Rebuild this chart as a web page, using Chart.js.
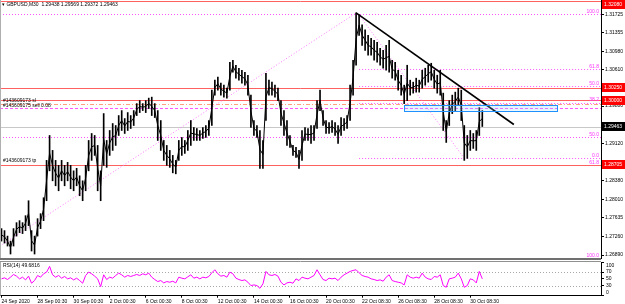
<!DOCTYPE html>
<html>
<head>
<meta charset="utf-8">
<script src="https://cdn.jsdelivr.net/npm/chart.js@4.4.0/dist/chart.umd.min.js"></script>
<style>
    html, body { margin: 0; padding: 0; background: #fff; }
    #wrap { position: relative; width: 625px; height: 304px; overflow: hidden; }
    #main { position: absolute; left: 0; top: 0; }
    #rsi { position: absolute; left: 0; top: 258px; }
</style>
</head>
<body>
<div id="wrap">
    <canvas id="main" width="625" height="259"></canvas>
    <canvas id="rsi" width="625" height="46"></canvas>
</div>
<script>
// GBPUSD M30, one column = a small group of bars (high / low)
var highs = [
    1.2742, 1.2738, 1.2727, 1.2717, 1.2742, 1.2754, 1.2758, 1.2754, 1.2768, 1.2798,
    1.2738, 1.2727, 1.2762, 1.2772, 1.2804, 1.2879, 1.2929, 1.2899, 1.2879, 1.2869,
    1.2879, 1.2869, 1.2875, 1.2869, 1.2858, 1.2863, 1.2848, 1.2838, 1.2869, 1.2919,
    1.2933, 1.2929, 1.2909, 1.2858, 1.2973, 1.2919, 1.2939, 1.2953, 1.2949, 1.2969,
    1.2979, 1.2963, 1.2975, 1.2969, 1.2979, 1.2993, 1.2999, 1.2993, 1.2999, 1.3004,
    1.3006, 1.2993, 1.2979, 1.2959, 1.2919, 1.2909, 1.2899, 1.2889, 1.2879, 1.2919,
    1.2925, 1.2919, 1.2939, 1.2959, 1.2945, 1.2943, 1.2939, 1.2945, 1.2949, 1.2959,
    1.3020, 1.3040, 1.3046, 1.3034, 1.3030, 1.3024, 1.3076, 1.3080, 1.3070, 1.3064,
    1.3060, 1.3056, 1.3050, 1.3010, 1.2959, 1.2949, 1.2939, 1.2919, 1.3054, 1.3040,
    1.3036, 1.3030, 1.3024, 1.2999, 1.2979, 1.2959, 1.2929, 1.2909, 1.2905, 1.2899,
    1.2939, 1.2945, 1.2943, 1.2949, 1.2949, 1.2999, 1.3020, 1.2979, 1.2959, 1.2955,
    1.2959, 1.2955, 1.2949, 1.2965, 1.2963, 1.2969, 1.3030, 1.3080, 1.3175, 1.3171,
    1.3151, 1.3141, 1.3130, 1.3124, 1.3120, 1.3116, 1.3104, 1.3100, 1.3110, 1.3120,
    1.3080, 1.3076, 1.3060, 1.3050, 1.3030, 1.3070, 1.3040, 1.3036, 1.3044, 1.3040,
    1.3060, 1.3064, 1.3070, 1.3074, 1.3060, 1.3050, 1.3060, 1.3014, 1.2959, 1.2999,
    1.3010, 1.3016, 1.3024, 1.3020, 1.2949, 1.2929, 1.2939, 1.2933, 1.2939, 1.2985,
    1.2979
];
var lows = [
    1.2717, 1.2713, 1.2707, 1.2691, 1.2707, 1.2727, 1.2734, 1.2732, 1.2738, 1.2748,
    1.2697, 1.2691, 1.2727, 1.2742, 1.2758, 1.2798, 1.2858, 1.2838, 1.2828, 1.2818,
    1.2838, 1.2828, 1.2838, 1.2822, 1.2818, 1.2828, 1.2808, 1.2798, 1.2818, 1.2858,
    1.2879, 1.2889, 1.2818, 1.2798, 1.2869, 1.2865, 1.2889, 1.2899, 1.2909, 1.2929,
    1.2939, 1.2933, 1.2939, 1.2943, 1.2949, 1.2969, 1.2975, 1.2979, 1.2975, 1.2983,
    1.2969, 1.2965, 1.2919, 1.2899, 1.2879, 1.2869, 1.2865, 1.2854, 1.2852, 1.2879,
    1.2889, 1.2893, 1.2899, 1.2909, 1.2919, 1.2919, 1.2919, 1.2923, 1.2925, 1.2929,
    1.2949, 1.3010, 1.3020, 1.3010, 1.3006, 1.3004, 1.3020, 1.3056, 1.3044, 1.3040,
    1.3034, 1.3030, 1.3010, 1.2945, 1.2929, 1.2925, 1.2863, 1.2863, 1.2959, 1.3010,
    1.3010, 1.3006, 1.2999, 1.2949, 1.2929, 1.2909, 1.2905, 1.2889, 1.2885, 1.2863,
    1.2879, 1.2919, 1.2919, 1.2913, 1.2919, 1.2943, 1.2979, 1.2949, 1.2933, 1.2933,
    1.2935, 1.2929, 1.2913, 1.2929, 1.2939, 1.2943, 1.2959, 1.3010, 1.3070, 1.3130,
    1.3110, 1.3100, 1.3090, 1.3090, 1.3080, 1.3076, 1.3070, 1.3064, 1.3060, 1.3056,
    1.3044, 1.3040, 1.3020, 1.3010, 1.2993, 1.2999, 1.3010, 1.3014, 1.3016, 1.3016,
    1.3024, 1.3030, 1.3036, 1.3040, 1.3024, 1.3014, 1.3010, 1.2939, 1.2915, 1.2949,
    1.2973, 1.2979, 1.2989, 1.2959, 1.2879, 1.2883, 1.2899, 1.2903, 1.2899, 1.2929,
    1.2947
];
var rsi = [
    50, 53, 48, 55, 63, 58, 50, 55, 47, 58,
    37, 45, 60, 55, 65, 70, 87, 62, 55, 60,
    52, 57, 50, 53, 47, 52, 45, 37, 60, 70,
    65, 58, 50, 27, 62, 48, 55, 52, 60, 67,
    62, 55, 60, 57, 60, 63, 60, 65, 62, 67,
    55, 48, 42, 45, 38, 42, 40, 43, 38, 55,
    52, 50, 56, 62, 52, 55, 50, 55, 53, 57,
    68, 77, 65, 58, 60, 55, 70, 65, 52, 48,
    45, 47, 40, 30, 32, 30, 22, 35, 72, 62,
    60, 63, 58, 40, 32, 38, 40, 37, 50, 45,
    55, 52, 50, 55, 60, 77, 62, 48, 45, 52,
    50, 52, 45, 55, 62, 67, 72, 75, 77, 68,
    60, 57, 55, 50, 48, 45, 47, 43, 55, 62,
    45, 42, 40, 38, 32, 62, 55, 52, 55, 52,
    67, 55, 50, 48, 57, 55, 62, 30, 25, 50,
    52, 55, 67, 50, 25, 30, 50, 47, 38, 72,
    50
];

var COLS = 200;      // columns across the whole window (incl. the empty right shift)
var timeLabels = ['24 Sep 2020', '28 Sep 00:30', '30 Sep 00:30', '2 Oct 00:30', '6 Oct 00:30',
    '8 Oct 00:30', '12 Oct 00:30', '14 Oct 00:30', '16 Oct 00:30', '20 Oct 00:30',
    '22 Oct 08:30', '26 Oct 08:30', '28 Oct 08:30', '30 Oct 08:30'];
var priceTicks = [1.31725, 1.31355, 1.30980, 1.30610, 1.30240, 1.29880, 1.29495,
    1.29120, 1.28750, 1.28380, 1.28010, 1.27635, 1.27260, 1.26890];
var rsiTicks = [100, 70, 50, 30, 0];
var rsiLevels = [70, 30];

var quote = [1.29438, 1.29569, 1.29372, 1.29463];   // open high low close
var redLevels = [1.32080, 1.30250, 1.30000, 1.28705];
// fibo levels across the whole chart
var fibAPrices = [1.31725, 1.2925, 1.2869, 1.2683];
var fibALabels = ['100.0', '50.0', '61.8', '100.0'];
// fibo levels from the top on
var fibBPrices = [1.3062, 1.3028, 1.2995, 1.2883];
var fibBLabels = ['61.8', '50.0', '38.2', '0.0'];
var slLine = 1.2992, tpLine = 1.2985;
var orderTexts = ['#143609173 sl', '#143609175 sell 0.08', '#143609173 tp'];
var fibATrend = [[-0.5, 1.2707], [118, 1.3175]];
var fibBTrend = [[119, 1.3171], [154, 1.2883]];
var trend = [[118, 1.3175], [170.5, 1.2951]];
var zone = [[134, 1.2991], [185, 1.2979]];

var cols = [];
for (var i = 0; i < COLS; i++) {
    cols.push(i % 12 === 0 && timeLabels[i / 12] ? timeLabels[i / 12] : '');
}
var ranges = lows.map(function (l, i) { return [l, highs[i]]; });
// path through the middle of each column, ties the bars together
var mids = lows.map(function (l, i) { return (l + highs[i]) / 2; });

var FONT = '5px "Liberation Sans", Arial, sans-serif';

function hline(ctx, x1, x2, py, color, dash) {
    py = Math.round(py) + 0.5;
    ctx.beginPath();
    ctx.setLineDash(dash || []);
    ctx.strokeStyle = color;
    ctx.lineWidth = 1;
    ctx.moveTo(x1, py);
    ctx.lineTo(x2, py);
    ctx.stroke();
}

function seg(ctx, sx, sy, p, color, width, dash) {
    ctx.beginPath();
    ctx.setLineDash(dash || []);
    ctx.strokeStyle = color;
    ctx.lineWidth = width;
    ctx.moveTo(sx.getPixelForValue(p[0][0]), sy.getPixelForValue(p[0][1]));
    ctx.lineTo(sx.getPixelForValue(p[1][0]), sy.getPixelForValue(p[1][1]));
    ctx.stroke();
}

function box(ctx, a, py, txt, bg) {
    py = Math.max(4.5, py);
    ctx.fillStyle = bg;
    ctx.fillRect(a.right + 1, Math.round(py - 4.5), 24, 9);
    ctx.fillStyle = '#fff';
    ctx.font = FONT;
    ctx.textAlign = 'left';
    ctx.textBaseline = 'middle';
    ctx.fillText(txt, a.right + 3, Math.round(py - 4.5) + 4.5);
}

var mainDecor = {
    id: 'mainDecor',
    beforeDatasetsDraw: function (chart) {
        var ctx = chart.ctx, a = chart.chartArea, sx = chart.scales.x, sy = chart.scales.y;
        var fibStart = sx.getPixelForValue(fibBTrend[0][0]);
        ctx.save();
        hline(ctx, a.left, a.right, sy.getPixelForValue(quote[3]), '#c8c8c8');
        fibAPrices.forEach(function (v) {
            hline(ctx, a.left, a.right, sy.getPixelForValue(v), '#ff55ff', [1, 2]);
        });
        fibBPrices.forEach(function (v) {
            hline(ctx, fibStart, a.right, sy.getPixelForValue(v), '#ff55ff', [1, 2]);
        });
        redLevels.forEach(function (v) {
            hline(ctx, a.left, a.right, Math.max(1, sy.getPixelForValue(v)), '#ff6060');
        });
        hline(ctx, a.left, a.right, sy.getPixelForValue(slLine), '#ffa080', [4, 2, 1, 2]);
        hline(ctx, a.left, a.right, sy.getPixelForValue(tpLine), '#ff55ff', [3, 2]);
        seg(ctx, sx, sy, fibATrend, '#ff77ff', 1, [1, 2]);
        seg(ctx, sx, sy, fibBTrend, '#ff77ff', 1, [1, 2]);

        // labels of the levels
        ctx.font = FONT;
        ctx.fillStyle = '#ff33ff';
        ctx.textAlign = 'right';
        ctx.textBaseline = 'bottom';
        fibAPrices.forEach(function (v, i) {
            ctx.fillText(fibALabels[i], a.right - 2, sy.getPixelForValue(v));
        });
        fibBPrices.forEach(function (v, i) {
            ctx.fillText(fibBLabels[i], a.right - 2, sy.getPixelForValue(v));
        });
        ctx.fillStyle = '#000';
        ctx.textAlign = 'left';
        ctx.fillText(orderTexts[0], 3, sy.getPixelForValue(redLevels[2]) + 3);
        ctx.fillText(orderTexts[1], 3, sy.getPixelForValue(tpLine) + 1);
        ctx.fillText(orderTexts[2], 3, sy.getPixelForValue(redLevels[3]) - 1);
        ctx.restore();
    },
    afterDatasetsDraw: function (chart) {
        var ctx = chart.ctx, a = chart.chartArea, sx = chart.scales.x, sy = chart.scales.y;
        ctx.save();
        seg(ctx, sx, sy, trend, '#000', 1.6);
        var x1 = sx.getPixelForValue(zone[0][0]), x2 = sx.getPixelForValue(zone[1][0]);
        var y1 = sy.getPixelForValue(zone[0][1]), y2 = sy.getPixelForValue(zone[1][1]);
        ctx.setLineDash([]);
        ctx.fillStyle = 'rgba(140, 210, 255, 0.25)';
        ctx.fillRect(x1, y1, x2 - x1, y2 - y1);
        ctx.strokeStyle = '#1e90ff';
        ctx.lineWidth = 1;
        ctx.strokeRect(Math.round(x1) + 0.5, Math.round(y1) + 0.5, Math.round(x2 - x1), Math.round(y2 - y1));
        ctx.restore();
    },
    afterDraw: function (chart) {
        var ctx = chart.ctx, a = chart.chartArea, sy = chart.scales.y;
        ctx.save();
        ctx.strokeStyle = '#b0b0b0';
        ctx.lineWidth = 1;
        ctx.beginPath();
        ctx.moveTo(0.5, 0);
        ctx.lineTo(0.5, a.bottom);
        ctx.stroke();
        redLevels.forEach(function (v) {
            box(ctx, a, sy.getPixelForValue(v), v.toFixed(5), '#ff0000');
        });
        box(ctx, a, sy.getPixelForValue(quote[3]), quote[3].toFixed(5), '#000');
        ctx.font = FONT;
        ctx.fillStyle = '#000';
        ctx.textAlign = 'left';
        ctx.textBaseline = 'middle';
        ctx.fillText('\u25BE GBPUSD,M30  ' + quote.map(function (q) { return q.toFixed(5); }).join(' '), 2, 5);
        ctx.restore();
    }
};

new Chart(document.getElementById('main'), {
    type: 'bar',
    data: {
        labels: cols,
        datasets: [{
            type: 'line',
            data: mids,
            borderColor: '#000',
            borderWidth: 1,
            pointRadius: 0,
            tension: 0
        }, {
            data: ranges,
            backgroundColor: '#000',
            barThickness: 1,
            borderWidth: 0
        }]
    },
    options: {
        responsive: false,
        animation: false,
        devicePixelRatio: 1,
        layout: { padding: 0 },
        plugins: { legend: { display: false }, tooltip: { enabled: false } },
        scales: {
            x: { display: false, offset: true },
            y: {
                position: 'right',
                min: 1.2681,
                max: 1.3201,
                afterBuildTicks: function (s) {
                    s.ticks = priceTicks.map(function (v) { return { value: v }; });
                },
                afterFit: function (s) {
                    s.width = 24;
                    s.paddingTop = 0;
                    s.paddingBottom = 0;
                },
                ticks: {
                    color: '#000',
                    padding: 1,
                    font: { size: 5, family: '"Liberation Sans", Arial, sans-serif' },
                    callback: function (v) { return Number(v).toFixed(5); }
                },
                grid: { drawOnChartArea: false, tickLength: 3, color: '#000' },
                border: { color: '#000' }
            }
        }
    },
    plugins: [mainDecor]
});

var rsiDecor = {
    id: 'rsiDecor',
    beforeDatasetsDraw: function (chart) {
        var ctx = chart.ctx, a = chart.chartArea, sy = chart.scales.y;
        ctx.save();
        // window separator
        ctx.fillStyle = '#707070';
        ctx.fillRect(0, 0, a.right, 2);
        ctx.strokeStyle = '#b0b0b0';
        ctx.lineWidth = 1;
        ctx.beginPath();
        ctx.moveTo(0.5, a.top);
        ctx.lineTo(0.5, a.bottom);
        ctx.stroke();
        hline(ctx, a.left, a.right, a.top - 1, '#909090');
        rsiLevels.forEach(function (v) {
            hline(ctx, a.left, a.right, sy.getPixelForValue(v), '#a8a8a8', [1, 2]);
        });
        ctx.restore();
    },
    afterDraw: function (chart) {
        var ctx = chart.ctx, a = chart.chartArea, sy = chart.scales.y;
        ctx.save();
        ctx.font = FONT;
        ctx.fillStyle = '#000';
        ctx.textBaseline = 'middle';
        ctx.textAlign = 'left';
        ctx.fillText('RSI(14) 49.6816', 3, a.top + 3.5);
        rsiTicks.forEach(function (v) {
            var py = Math.min(Math.max(sy.getPixelForValue(v), a.top + 3.5), a.bottom - 3.5);
            ctx.fillText(String(v), a.right + 5, py);
        });
        ctx.restore();
    }
};

new Chart(document.getElementById('rsi'), {
    type: 'line',
    data: {
        labels: cols,
        datasets: [{
            data: rsi,
            borderColor: '#ff00ff',
            borderWidth: 1,
            pointRadius: 0,
            tension: 0
        }]
    },
    options: {
        responsive: false,
        animation: false,
        devicePixelRatio: 1,
        layout: { padding: { top: 4, left: 0, right: 0, bottom: 0 } },
        plugins: { legend: { display: false }, tooltip: { enabled: false } },
        scales: {
            x: {
                offset: true,
                afterBuildTicks: function (s) {
                    s.ticks = s.ticks.filter(function (t) { return cols[t.value] !== ''; });
                },
                afterFit: function (s) {
                    s.height = 8.3;
                    s.paddingLeft = 0;
                    s.paddingRight = 0;
                },
                ticks: {
                    autoSkip: false,
                    maxRotation: 0,
                    align: 'start',
                    color: '#000',
                    padding: 1,
                    font: { size: 5, family: '"Liberation Sans", Arial, sans-serif' }
                },
                grid: { drawOnChartArea: false, tickLength: 2, color: '#000' },
                border: { color: '#000' }
            },
            y: {
                position: 'right',
                min: 0,
                max: 100,
                afterBuildTicks: function (s) {
                    s.ticks = rsiTicks.map(function (v) { return { value: v }; });
                },
                afterFit: function (s) {
                    s.width = 24;
                    s.paddingTop = 0;
                    s.paddingBottom = 0;
                },
                ticks: { display: false },
                grid: { drawOnChartArea: false, tickLength: 3, color: '#000' },
                border: { color: '#000' }
            }
        }
    },
    plugins: [rsiDecor]
});
</script>
</body>
</html>
